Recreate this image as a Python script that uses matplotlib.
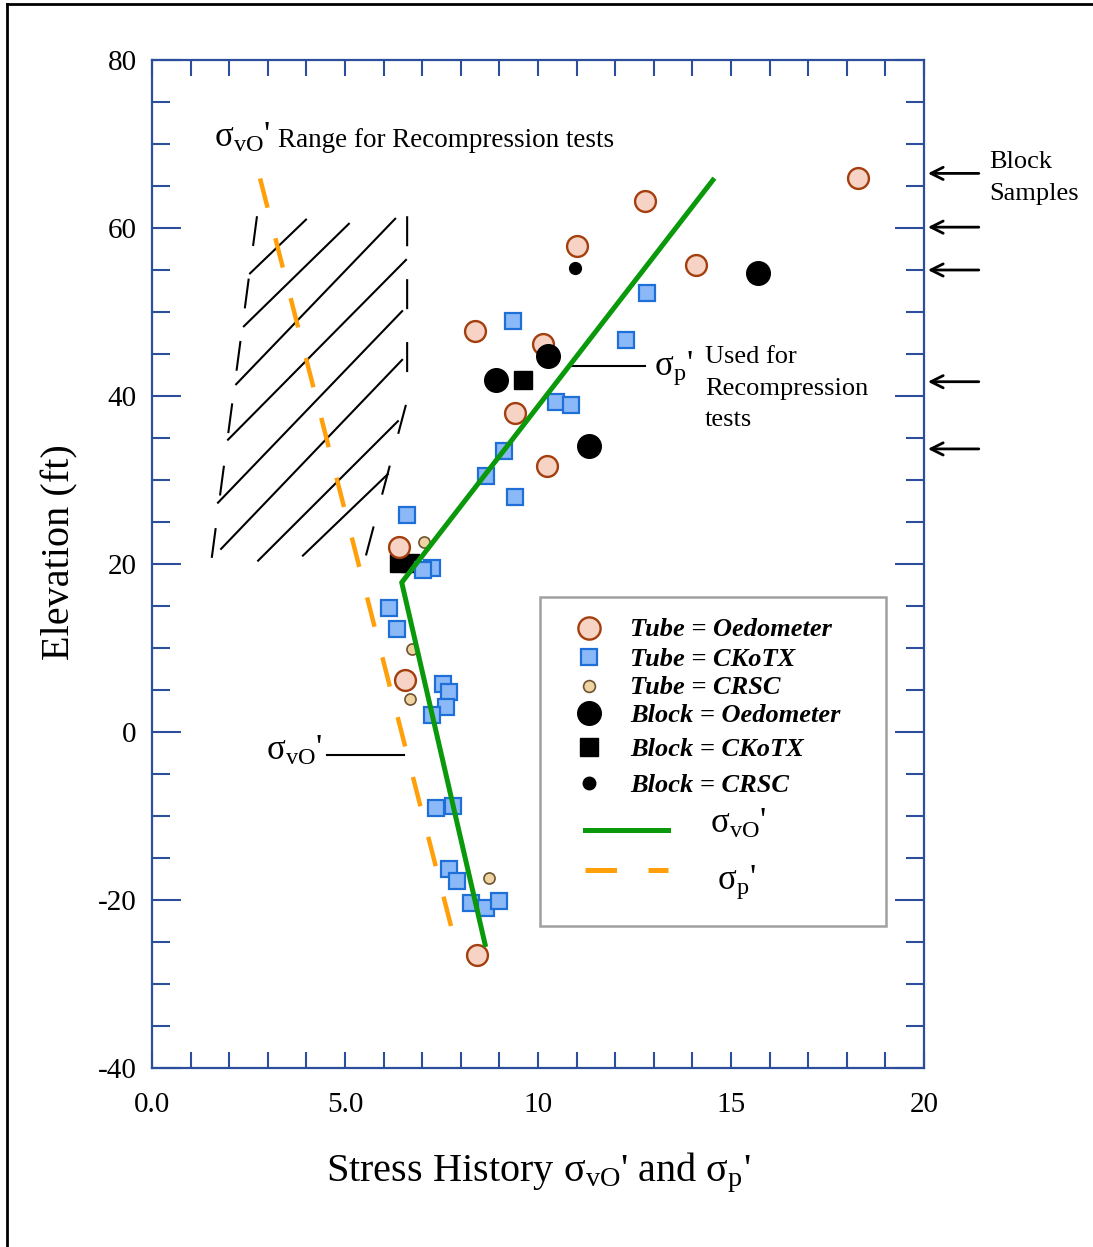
import matplotlib
matplotlib.use('Agg')
import matplotlib.pyplot as plt
from matplotlib.lines import Line2D
from matplotlib.patches import Rectangle
from matplotlib.ticker import MultipleLocator

plt.rcParams['font.family'] = ['Liberation Serif', 'DejaVu Serif']
plt.rcParams['mathtext.fontset'] = 'custom'
plt.rcParams['mathtext.rm'] = 'Liberation Serif'
plt.rcParams['mathtext.it'] = 'Liberation Serif:italic'
plt.rcParams['mathtext.bf'] = 'Liberation Serif:bold'
plt.rcParams['axes.unicode_minus'] = False

# ---------------- data ----------------
tube_oed_x = [18.29, 12.76, 11.00, 14.09, 8.37, 10.14, 9.40, 10.23, 6.41, 6.55, 8.41]
tube_oed_y = [66.0, 63.25, 57.8, 55.6, 47.7, 46.2, 38.0, 31.7, 22.0, 6.2, -26.5]

tube_cko_x = [12.83, 9.34, 12.28, 10.47, 10.85, 9.12, 8.65, 9.40, 6.60,
              7.25, 7.02, 6.14, 6.35, 7.54, 7.69, 7.62, 7.25,
              7.36, 7.80, 7.69, 7.90, 8.26, 8.65, 8.99]
tube_cko_y = [52.3, 48.9, 46.7, 39.3, 38.9, 33.5, 30.5, 28.0, 25.8,
              19.5, 19.3, 14.8, 12.3, 5.7, 4.8, 3.0, 2.0,
              -9.0, -8.8, -16.3, -17.7, -20.4, -21.0, -20.1]

tube_crsc_x = [7.05, 6.74, 6.68, 8.73]
tube_crsc_y = [22.6, 9.9, 3.9, -17.4]

block_oed_x = [15.69, 10.26, 8.91, 11.31]
block_oed_y = [54.6, 44.8, 41.9, 34.0]

block_cko_x = [9.60, 6.40, 6.68]
block_cko_y = [41.9, 20.1, 20.1]

block_crsc_x = [10.96]
block_crsc_y = [55.25]

sigma_vo_x = [8.63, 6.47, 14.53]
sigma_vo_y = [-25.3, 17.8, 65.7]

sigma_p_x = [2.80, 7.93]
sigma_p_y = [65.9, -26.4]

# recompression range region (boundaries and hatch lines)
range_left_x = [2.72, 1.53]
range_left_y = [61.4, 20.1]
range_right_x = [6.61, 6.61, 5.49]
range_right_y = [61.4, 39.5, 20.1]
hatch_x0 = [2.54, 2.38, 2.18, 1.97, 1.71, 1.79, 2.75, 3.91]
hatch_y0 = [54.6, 48.3, 41.4, 34.8, 27.3, 21.8, 20.4, 21.0]
hatch_x1 = [3.99, 5.10, 6.30, 6.58, 6.48, 6.48, 6.37, 6.11]
hatch_y1 = [61.0, 60.5, 61.1, 56.2, 50.1, 44.3, 37.0, 30.7]

block_sample_elev = [66.5, 60.1, 55.0, 41.7, 33.7]

x_tick_vals = [0, 5, 10, 15, 20]
x_tick_labels = ['0.0', '5.0', '10', '15', '20']
y_tick_vals = [-40, -20, 0, 20, 40, 60, 80]
y_tick_labels = ['-40', '-20', '0', '20', '40', '60', '80']

legend_labels = ['Tube = Oedometer', 'Tube = CKoTX', 'Tube = CRSC',
                 'Block = Oedometer', 'Block = CKoTX', 'Block = CRSC']

# ---------------- styles ----------------
SPINE = '#2C4E9C'
PEACH_F, PEACH_E = '#F6D3C4', '#A43E0C'
BLUE_F, BLUE_E = '#8BB9F7', '#1F6FD8'
TAN_F, TAN_E = '#EED4A2', '#6E5330'
GREEN = '#0A990A'
ORANGE = '#FFA00A'

fig = plt.figure(figsize=(10.93, 12.47), dpi=100)
ax = fig.add_axes([152/1093, 1-1068/1247, (924-152)/1093, (1068-60)/1247])
ax.set_xlim(0, 20)
ax.set_ylim(-40, 80)

for s in ax.spines.values():
    s.set_color(SPINE)
    s.set_linewidth(1.6)

ax.set_xticks(range(0, 21))
ax.set_xticklabels([x_tick_labels[x_tick_vals.index(v)] if v in x_tick_vals else ''
                    for v in range(0, 21)])
ax.set_yticks(y_tick_vals)
ax.set_yticklabels(y_tick_labels)
ax.yaxis.set_minor_locator(MultipleLocator(5))
ax.tick_params(axis='x', which='major', direction='in', length=11.5, width=1.5,
               color=SPINE, top=True, bottom=True, labelsize=21, pad=17)
ax.tick_params(axis='y', which='major', direction='in', length=21, width=1.5,
               color=SPINE, left=True, right=True, labelsize=21, pad=11)
ax.tick_params(axis='y', which='minor', direction='in', length=13, width=1.5,
               color=SPINE, left=True, right=True)

# recompression range
ax.plot(range_left_x, range_left_y, color='black', lw=1.5, dashes=(14.4, 15.8), zorder=1)
ax.plot(range_right_x, range_right_y, color='black', lw=1.5, dashes=(14.4, 15.8), zorder=1)
for a, b, c, d in zip(hatch_x0, hatch_y0, hatch_x1, hatch_y1):
    ax.plot([a, c], [b, d], color='black', lw=1.5, zorder=1)

# sigma_p dashed line
ax.plot(sigma_p_x, sigma_p_y, color=ORANGE, lw=3.2, dashes=(6.8, 7.1), zorder=2)

# markers
ax.plot(block_cko_x, block_cko_y, 's', ms=13, color='black', ls='none', zorder=3)
ax.plot(tube_cko_x, tube_cko_y, 's', ms=11.5, mfc=BLUE_F, mec=BLUE_E, mew=1.6, ls='none', zorder=4)
ax.plot(tube_oed_x, tube_oed_y, 'o', ms=15, mfc=PEACH_F, mec=PEACH_E, mew=1.7, ls='none', zorder=5)
ax.plot(tube_crsc_x, tube_crsc_y, 'o', ms=8, mfc=TAN_F, mec=TAN_E, mew=1.2, ls='none', zorder=6)
ax.plot(block_oed_x, block_oed_y, 'o', ms=17, color='black', ls='none', zorder=6)
ax.plot(block_crsc_x, block_crsc_y, 'o', ms=8.5, color='black', ls='none', zorder=6)

# sigma_vo line
ax.plot(sigma_vo_x, sigma_vo_y, color=GREEN, lw=3.6, zorder=7, solid_joinstyle='miter')

# annotations
ax.text(1.61, 69.6, r"σ$_{\rm vO}$'", fontsize=25, ha='left', va='baseline')
ax.text(3.26, 69.6, "Range for Recompression tests", fontsize=19.5, ha='left', va='baseline')
ax.plot([4.53, 6.53], [-2.7, -2.7], color='black', lw=1.5, zorder=2)
ax.text(4.42, -2.3, r"σ$_{\rm vO}$'", fontsize=25, ha='right', va='center')
ax.plot([10.78, 12.77], [43.6, 43.6], color='black', lw=1.5, zorder=2)
ax.text(13.0, 43.3, r"σ$_{\rm p}$'", fontsize=25, ha='left', va='center')
ax.text(14.33, 45.9, "Used for\nRecompression\ntests", fontsize=19, ha='left', va='top',
        linespacing=1.55)

# block sample arrows (outside right)
ytr = ax.get_yaxis_transform()
for e in block_sample_elev:
    ax.annotate('', xy=(1.005, e), xycoords=ytr, xytext=(1.071, e), textcoords=ytr,
                arrowprops=dict(arrowstyle='->', lw=2, color='black', mutation_scale=22,
                                shrinkA=0, shrinkB=0), annotation_clip=False)
ax.text(1.084, 69.2, "Block\nSamples", transform=ytr, fontsize=19, ha='left', va='top',
        linespacing=1.6)

# axis labels
ax.set_xlabel(r"Stress History σ$_{\rm vO}$' and σ$_{\rm p}$'", fontsize=29)
ax.xaxis.set_label_coords(0.5, -0.104)
ax.xaxis.label.set_va('center')
ax.set_ylabel("Elevation (ft)", fontsize=29)
ax.yaxis.set_label_coords(-0.120, 0.512)
ax.yaxis.label.set_va('center')

# manual legend (axes fraction)
T = ax.transAxes
def fx(px):
    return (px - 152) / 772
def fy(py):
    return (1068 - py) / 1008

ax.add_patch(Rectangle((fx(540), fy(926)), fx(886) - fx(540), fy(597) - fy(926),
                       transform=T, facecolor='white', edgecolor='#A0A0A0', lw=1.8, zorder=8))
rows = [628, 657, 686, 713, 747, 783]
styles = [dict(marker='o', ms=16, mfc=PEACH_F, mec=PEACH_E, mew=1.7),
          dict(marker='s', ms=12, mfc=BLUE_F, mec=BLUE_E, mew=1.6),
          dict(marker='o', ms=8.5, mfc=TAN_F, mec=TAN_E, mew=1.2),
          dict(marker='o', ms=17, color='black'),
          dict(marker='s', ms=13.5, color='black'),
          dict(marker='o', ms=9, color='black')]
for r, st, lab in zip(rows, styles, legend_labels):
    ax.plot([fx(589)], [fy(r)], transform=T, ls='none', zorder=9, clip_on=False, **st)
    ax.text(fx(630), fy(r + 2), lab, transform=T, fontsize=19, fontweight='bold',
            style='italic', ha='left', va='center', zorder=9)
ax.plot([fx(585), fx(668)], [fy(830), fy(830)], transform=T, color=GREEN, lw=3.6, zorder=9)
ax.plot([fx(585), fx(668)], [fy(870), fy(870)], transform=T, color=ORANGE, lw=3.6,
        dashes=(6.3, 6.3), zorder=9)
ax.text(fx(710), fy(824), r"σ$_{\rm vO}$'", transform=T, fontsize=25, ha='left', va='center', zorder=9)
ax.text(fx(717), fy(882), r"σ$_{\rm p}$'", transform=T, fontsize=25, ha='left', va='center', zorder=9)

# figure frame (left and top)
fig.add_artist(Line2D([7/1093, 7/1093], [0, 1 - 4/1247], transform=fig.transFigure,
                      color='black', lw=2))
fig.add_artist(Line2D([7/1093, 1], [1 - 4/1247, 1 - 4/1247], transform=fig.transFigure,
                      color='black', lw=2))

fig.savefig('out.png', dpi=100)
